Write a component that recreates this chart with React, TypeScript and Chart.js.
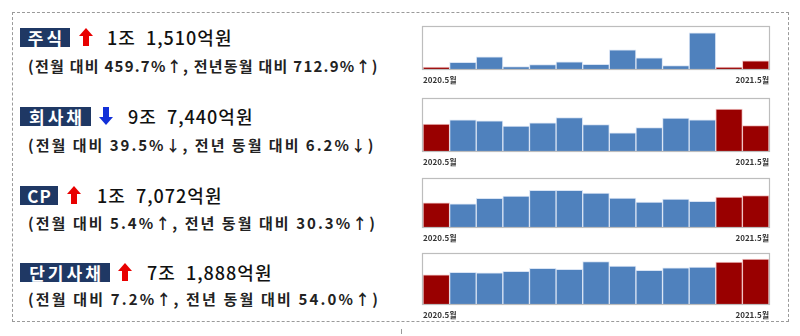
import React, { useEffect, useRef } from "react";
import { Chart, registerables } from "chart.js";
Chart.register(...registerables);

// ---- data ----
const months = [
  "2020.5월", "2020.6월", "2020.7월", "2020.8월", "2020.9월", "2020.10월", "2020.11월",
  "2020.12월", "2021.1월", "2021.2월", "2021.3월", "2021.4월", "2021.5월",
];
const tickLabels = ["2020.5월", "2021.5월"];
// 억원
const stockValues = [1416, 9600, 17300, 3400, 6200, 10100, 6700, 27400, 15800, 4800, 51800, 2056, 11510];
const bondValues = [103880, 120200, 116400, 96100, 108800, 129000, 101200, 69600, 89800, 126500, 120200, 161060, 97440];
const cpValues = [13102, 12600, 15500, 16700, 19800, 19800, 18400, 15700, 13500, 15100, 13900, 16197, 17072];
const stbValues = [46680, 50800, 49700, 52400, 57200, 55600, 68000, 60500, 54000, 57800, 58900, 67060, 71888];
const seriesMax = [60000, 200000, 26000, 80000];
const highlighted = [0, 11, 12];

const categoryNames = ["주식", "회사채", "CP", "단기사채"];
const directions = ["up", "down", "up", "up"];
const amountTexts = ["1조  1,510억원", "9조  7,440억원", "1조  7,072억원", "7조  1,888억원"];
const subTexts = [
  "(전월 대비 459.7%↑, 전년동월 대비 712.9%↑)",
  "(전월 대비 39.5%↓, 전년 동월 대비 6.2%↓)",
  "(전월 대비 5.4%↑, 전년 동월 대비 30.3%↑)",
  "(전월 대비 7.2%↑, 전년 동월 대비 54.0%↑)",
];

// ---- layout ----
const FONT = '"Noto Sans CJK KR", "Noto Sans", sans-serif';
const boxTop = [28, 107, 186, 263];
const boxWidth = [50, 71, 38, 90];
const boxSpacing = [3, 3, 1, 3];
const arrowLeft = [79, 99, 67, 118];
const amountLeft = [107, 128, 97, 147];
const subTop = [57, 136, 214, 290];
const subSpacing = [1.25, 2.0, 2.05, 2.15];
const plotTop = [27, 99, 179, 254];
const plotBottom = [69, 151, 227, 304];
const PLOT_LEFT = 420;
const PLOT_RIGHT = 772;
const AXH = 17;

const BLUE = "#4f81bd";
const RED = "#990000";

const framePlugin = {
  id: "frame",
  afterDatasetsDraw(chart: any) {
    const { ctx, chartArea } = chart;
    ctx.save();
    ctx.strokeStyle = "#bdbdbd";
    ctx.lineWidth = 1.2;
    ctx.strokeRect(chartArea.left - 0.5, chartArea.top - 0.5, chartArea.right - chartArea.left + 1, chartArea.bottom - chartArea.top + 1);
    ctx.restore();
  },
};

function MiniBars({ values, max, top, bottom }: { values: number[]; max: number; top: number; bottom: number }) {
  const ref = useRef<HTMLCanvasElement | null>(null);
  const padL = 3, padR = 3, padT = 3;
  const width = PLOT_RIGHT - PLOT_LEFT + padL + padR;
  const height = bottom - top + padT + AXH;
  useEffect(() => {
    if (!ref.current) return;
    const bg = values.map((_, i) => (highlighted.includes(i) ? RED : BLUE));
    const bc = values.map((_, i) => (highlighted.includes(i) ? "rgba(240,190,190,0.9)" : "rgba(215,227,243,0.95)"));
    const chart = new Chart(ref.current, {
      type: "bar",
      data: {
        labels: months,
        datasets: [
          {
            data: values,
            backgroundColor: bg,
            borderColor: bc,
            borderWidth: { left: 1, right: 1, top: 1, bottom: 0 },
            borderSkipped: false,
            barPercentage: 1,
            categoryPercentage: 1,
            minBarLength: 2,
          },
        ],
      },
      options: {
        animation: false,
        responsive: false,
        layout: { padding: { left: padL, right: padR, top: padT, bottom: 0 } },
        plugins: { legend: { display: false }, tooltip: { enabled: false } },
        scales: {
          x: { display: false },
          y: { display: false, min: 0, max },
          x2: {
            type: "linear",
            position: "bottom",
            offset: false,
            min: 0,
            max: 1,
            grid: { display: false, drawTicks: false, offset: false },
            border: { display: false },
            afterBuildTicks: (axis: any) => {
              axis.ticks = [{ value: 0 }, { value: 1 }];
            },
            afterFit: (axis: any) => {
              axis.height = AXH;
            },
            ticks: {
              align: "inner",
              padding: 6,
              maxRotation: 0,
              autoSkip: false,
              color: "#333",
              font: { size: 8, weight: "bold", family: FONT },
              callback: (v: any) => (v === 0 ? tickLabels[0] : tickLabels[1]),
            },
          },
        },
      } as any,
      plugins: [framePlugin],
    });
    return () => chart.destroy();
  }, [values, max]);
  return (
    <canvas
      ref={ref}
      width={width}
      height={height}
      style={{ position: "absolute", left: PLOT_LEFT - padL, top: top - padT, width, height }}
    />
  );
}

function Arrow({ dir, left, top }: { dir: string; left: number; top: number }) {
  const up = dir === "up";
  return (
    <svg width={14} height={18} style={{ position: "absolute", left, top }} viewBox="0 0 14 18">
      <polygon
        points={up ? "7,0 14,8 10,8 10,18 4,18 4,8 0,8" : "7,18 14,10 10,10 10,0 4,0 4,10 0,10"}
        fill={up ? "#e80000" : "#1230d8"}
      />
    </svg>
  );
}

const seriesList = [stockValues, bondValues, cpValues, stbValues];

export default function App() {
  return (
    <div style={{ position: "fixed", left: 0, top: 0, width: 800, height: 336, background: "#fff", fontFamily: FONT, overflow: "hidden" }}>
      <div style={{ position: "absolute", left: 12, top: 12, width: 775, height: 308, border: "1px dashed #9a9a9a" }} />
      <div style={{ position: "absolute", left: 401, top: 329, width: 1, height: 5, background: "#999" }} />
      {categoryNames.map((name, i) => (
        <React.Fragment key={name}>
          <div
            style={{
              position: "absolute", left: 20, top: boxTop[i], width: boxWidth[i], height: 19,
              background: "#1f3864", color: "#fff", fontWeight: "bold", fontSize: 17, lineHeight: "19px",
              textAlign: "center", letterSpacing: boxSpacing[i], textIndent: boxSpacing[i], whiteSpace: "pre",
            }}
          >
            {name}
          </div>
          <Arrow dir={directions[i]} left={arrowLeft[i]} top={boxTop[i]} />
          <div
            style={{
              position: "absolute", left: amountLeft[i], top: boxTop[i] - 2, fontSize: 18, lineHeight: "22px",
              color: "#111", whiteSpace: "pre", fontWeight: 500, letterSpacing: 1,
            }}
          >
            {amountTexts[i]}
          </div>
          <div
            style={{
              position: "absolute", left: 28, top: subTop[i], fontSize: 15, lineHeight: "17px",
              color: "#222", whiteSpace: "pre", fontWeight: "bold", letterSpacing: subSpacing[i],
            }}
          >
            {subTexts[i]}
          </div>
          <MiniBars values={seriesList[i]} max={seriesMax[i]} top={plotTop[i]} bottom={plotBottom[i]} />
        </React.Fragment>
      ))}
    </div>
  );
}
